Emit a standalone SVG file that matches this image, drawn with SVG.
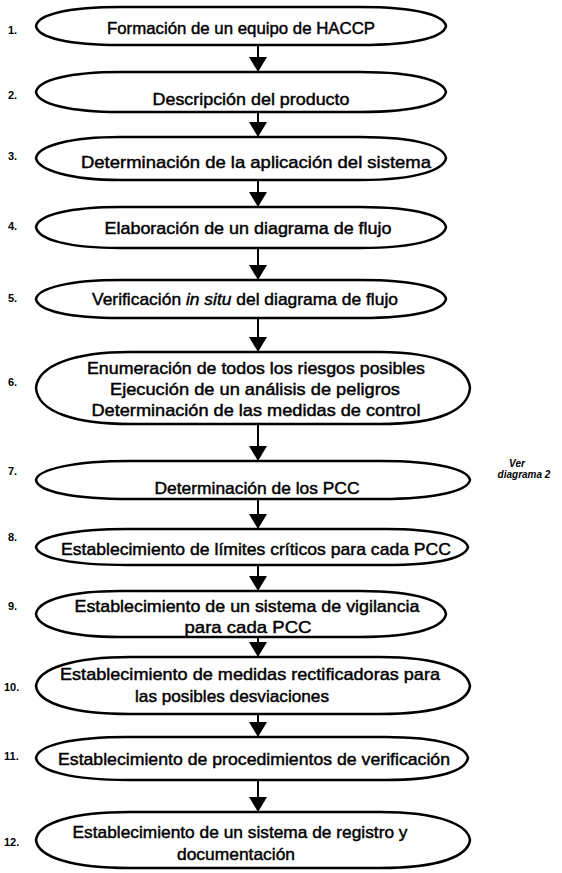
<svg xmlns="http://www.w3.org/2000/svg" width="562" height="873" viewBox="0 0 562 873">
<style>
.n{fill:#fff;stroke:#000;stroke-width:2.5}
.t{font-family:"Liberation Sans",Arial,sans-serif;font-size:17px;fill:#000;text-anchor:middle;stroke:#000;stroke-width:0.45}
.l{font-family:"Liberation Sans",Arial,sans-serif;font-size:11px;font-weight:bold;fill:#000}
.c{stroke:#000;stroke-width:2;fill:none}
.v{font-family:"Liberation Sans",Arial,sans-serif;font-size:10px;font-weight:bold;font-style:italic;fill:#000;text-anchor:middle}
</style>
<rect width="562" height="873" fill="#fff"/>
<g id="connectors">
<line class="c" x1="258" y1="45" x2="258" y2="60"/><path d="M249,57 L267,57 L258,72 Z"/>
<line class="c" x1="258" y1="112" x2="258" y2="125"/><path d="M249,122 L267,122 L258,137 Z"/>
<line class="c" x1="258" y1="180" x2="258" y2="195"/><path d="M249,192 L267,192 L258,207 Z"/>
<line class="c" x1="258" y1="248" x2="258" y2="268"/><path d="M249,265 L267,265 L258,280 Z"/>
<line class="c" x1="258" y1="318" x2="258" y2="340"/><path d="M249,337 L267,337 L258,352 Z"/>
<line class="c" x1="258" y1="424" x2="258" y2="449"/><path d="M249,446 L267,446 L258,461 Z"/>
<line class="c" x1="258" y1="499" x2="258" y2="517"/><path d="M249,514 L267,514 L258,529 Z"/>
<line class="c" x1="258" y1="565" x2="258" y2="579"/><path d="M249,576 L267,576 L258,591 Z"/>
<line class="c" x1="258" y1="637" x2="258" y2="645"/><path d="M249,642 L267,642 L258,657 Z"/>
<line class="c" x1="258" y1="714" x2="258" y2="725"/><path d="M249,722 L267,722 L258,737 Z"/>
<line class="c" x1="258" y1="780" x2="258" y2="800"/><path d="M249,797 L267,797 L258,812 Z"/>
</g>
<g id="n1">
<path class="n" d="M36,26 C38,14 70,7 120,7 L360,7 C420,7 444,16 446,26 C444,36 420,45 360,45 L120,45 C70,45 38,38 36,26 Z"/>
<text class="l" x="8" y="34">1.</text>
<text class="t" x="241" y="34" textLength="268" lengthAdjust="spacingAndGlyphs">Formación de un equipo de HACCP</text>
</g>
<g id="n2">
<path class="n" d="M36,92 C38,80 70,72 120,72 L360,72 C420,72 444,82 446,92 C444,102 420,112 360,112 L120,112 C70,112 38,104 36,92 Z"/>
<text class="l" x="8" y="99">2.</text>
<text class="t" x="251" y="105" textLength="197" lengthAdjust="spacingAndGlyphs">Descripción del producto</text>
</g>
<g id="n3">
<path class="n" d="M36,158 C38,146 70,137 120,137 L360,137 C420,137 444,147 446,158 C444,169 420,180 360,180 L120,180 C70,180 38,170 36,158 Z"/>
<text class="l" x="8" y="160">3.</text>
<text class="t" x="256" y="168" textLength="350" lengthAdjust="spacingAndGlyphs">Determinación de la aplicación del sistema</text>
</g>
<g id="n4">
<path class="n" d="M36,227 C38,215 70,207 120,207 L360,207 C420,207 444,217 446,227 C444,238 420,248 360,248 L120,248 C70,248 38,240 36,227 Z"/>
<text class="l" x="8" y="230">4.</text>
<text class="t" x="248" y="234" textLength="287" lengthAdjust="spacingAndGlyphs">Elaboración de un diagrama de flujo</text>
</g>
<g id="n5">
<path class="n" d="M36,299 C38,288 70,280 120,280 L360,280 C420,280 444,289 446,299 C444,309 420,318 360,318 L120,318 C70,318 38,311 36,299 Z"/>
<text class="l" x="8" y="302">5.</text>
<text class="t" x="245" y="305" textLength="306" lengthAdjust="spacingAndGlyphs">Verificación <tspan font-style="italic">in situ</tspan> del diagrama de flujo</text>
</g>
<g id="n6">
<path class="n" d="M36,388 C38,365 75,352 130,352 L380,352 C440,352 468,368 470,388 C468,410 440,424 380,424 L130,424 C75,424 38,412 36,388 Z"/>
<text class="l" x="8" y="386">6.</text>
<text class="t" x="256" y="374" textLength="338" lengthAdjust="spacingAndGlyphs">Enumeración de todos los riesgos posibles</text>
<text class="t" x="255" y="395" textLength="290" lengthAdjust="spacingAndGlyphs">Ejecución de un análisis de peligros</text>
<text class="t" x="256" y="416" textLength="329" lengthAdjust="spacingAndGlyphs">Determinación de las medidas de control</text>
</g>
<g id="n7">
<path class="n" d="M36,480 C38,469 75,461 130,461 L380,461 C440,461 468,470 470,480 C468,490 440,499 380,499 L130,499 C75,499 38,492 36,480 Z"/>
<text class="l" x="8" y="475">7.</text>
<text class="t" x="257" y="494" textLength="205" lengthAdjust="spacingAndGlyphs">Determinación de los PCC</text>
<text class="v" x="517" y="467">Ver</text>
<text class="v" x="524" y="478">diagrama 2</text>
</g>
<g id="n8">
<path class="n" d="M36,547 C38,537 72,529 128,529 L385,529 C442,529 466,538 468,547 C466,557 442,565 385,565 L128,565 C72,565 38,558 36,547 Z"/>
<text class="l" x="8" y="541">8.</text>
<text class="t" x="256" y="555" textLength="390" lengthAdjust="spacingAndGlyphs">Establecimiento de límites críticos para cada PCC</text>
</g>
<g id="n9">
<path class="n" d="M36,614 C38,600 70,591 120,591 L360,591 C420,591 444,602 446,614 C444,626 420,637 360,637 L120,637 C70,637 38,628 36,614 Z"/>
<text class="l" x="8" y="610">9.</text>
<text class="t" x="247" y="612" textLength="345" lengthAdjust="spacingAndGlyphs">Establecimiento de un sistema de vigilancia</text>
<text class="t" x="248" y="633" textLength="127" lengthAdjust="spacingAndGlyphs">para cada PCC</text>
</g>
<g id="n10">
<path class="n" d="M36,686 C38,668 75,657 130,657 L380,657 C440,657 468,670 470,686 C468,702 440,714 380,714 L130,714 C75,714 38,704 36,686 Z"/>
<text class="l" x="4" y="691">10.</text>
<text class="t" x="250" y="680" textLength="380" lengthAdjust="spacingAndGlyphs">Establecimiento de medidas rectificadoras para</text>
<text class="t" x="232" y="702" textLength="194" lengthAdjust="spacingAndGlyphs">las posibles desviaciones</text>
</g>
<g id="n11">
<path class="n" d="M36,758 C38,745 72,737 128,737 L385,737 C442,737 466,747 468,758 C466,770 442,780 385,780 L128,780 C72,780 38,771 36,758 Z"/>
<text class="l" x="4" y="760">11.</text>
<text class="t" x="254" y="765" textLength="392" lengthAdjust="spacingAndGlyphs">Establecimiento de procedimientos de verificación</text>
</g>
<g id="n12">
<path class="n" d="M36,840 C38,822 75,812 130,812 L380,812 C440,812 468,825 470,840 C468,856 440,868 380,868 L130,868 C75,868 38,858 36,840 Z"/>
<text class="l" x="4" y="846">12.</text>
<text class="t" x="240" y="838" textLength="335" lengthAdjust="spacingAndGlyphs">Establecimiento de un sistema de registro y</text>
<text class="t" x="236" y="860" textLength="118" lengthAdjust="spacingAndGlyphs">documentación</text>
</g>
</svg>
